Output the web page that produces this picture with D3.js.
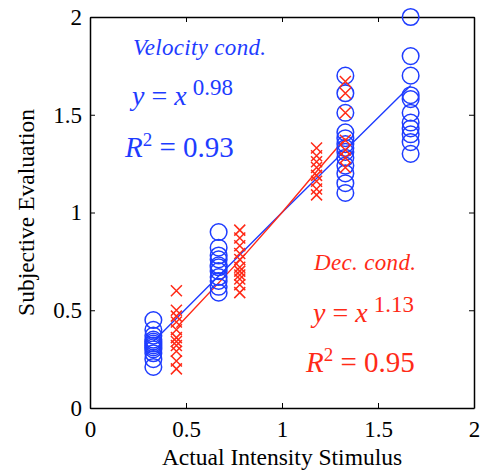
<!DOCTYPE html>
<html>
<head>
<meta charset="utf-8">
<script src="https://cdn.jsdelivr.net/npm/d3@7"></script>
<style>
  body { margin: 0; background: #fff; }
  text { font-family: "Liberation Serif", "DejaVu Serif", serif; }
</style>
</head>
<body>
<svg></svg>
<script>
// stimulus levels and ratings

var velX = [0.33, 0.67, 1.33, 1.67];
var velY = [
	[0.45, 0.40, 0.37, 0.35, 0.34, 0.33, 0.32, 0.31, 0.30, 0.28, 0.25, 0.21],
	[0.90, 0.82, 0.78, 0.76, 0.73, 0.72, 0.70, 0.67, 0.65, 0.62, 0.59],
	[1.70, 1.61, 1.51, 1.41, 1.38, 1.35, 1.33, 1.31, 1.28, 1.24, 1.20, 1.15, 1.10],
	[2.00, 1.80, 1.70, 1.60, 1.58, 1.51, 1.46, 1.43, 1.40, 1.36, 1.30]
];

var decX = [0.45, 0.78, 1.18, 1.33];
var decY = [
	[0.60, 0.50, 0.47, 0.44, 0.40, 0.36, 0.34, 0.32, 0.29, 0.24, 0.20],
	[0.91, 0.87, 0.83, 0.79, 0.76, 0.72, 0.70, 0.68, 0.66, 0.63, 0.59],
	[1.33, 1.29, 1.26, 1.23, 1.19, 1.16, 1.12, 1.09],
	[1.67, 1.61, 1.51, 1.37, 1.32, 1.28, 1.23]
];

// fitted curves
var velFitX = [0.33, 0.67, 1.00, 1.33, 1.67];
var velFitY = [0.34, 0.675, 1.00, 1.32, 1.65];
var decFitX = [0.45, 0.78, 1.00, 1.18, 1.33];
var decFitY = [0.41, 0.755, 1.00, 1.21, 1.38];

var xTicks = [0, 0.5, 1, 1.5, 2];
var xTickLabels = ['0', '0.5', '1', '1.5', '2'];
var yTicks = [0, 0.5, 1, 1.5, 2];
var yTickLabels = ['0', '0.5', '1', '1.5', '2'];

var blue = '#1e3cff',
	red = '#ff2a17';

var width = 481,
	height = 472,
	plotLeft = 90,
	plotRight = 474,
	plotTop = 17,
	plotBottom = 408;

var xScale = d3.scaleLinear().domain([0, 2]).range([plotLeft, plotRight]);
var yScale = d3.scaleLinear().domain([0, 2]).range([plotBottom, plotTop]);

var svg = d3.select('svg')
	.attr('width', width)
	.attr('height', height);

// axes with inward ticks, mirrored on top/right
function styleAxis(g) {
	g.selectAll('path').attr('stroke', '#000').attr('stroke-width', 1.5);
	g.selectAll('line').attr('stroke', '#000').attr('stroke-width', 1);
	g.selectAll('text').attr('fill', '#000').style('font-size', '23px');
}

svg.append('g')
	.attr('transform', 'translate(0,' + plotBottom + ')')
	.call(d3.axisBottom(xScale).tickValues(xTicks)
		.tickFormat((d, i) => xTickLabels[i]).tickSizeInner(-5).tickSizeOuter(0).tickPadding(13))
	.call(styleAxis);

svg.append('g')
	.attr('transform', 'translate(0,' + plotTop + ')')
	.call(d3.axisTop(xScale).tickValues(xTicks)
		.tickFormat('').tickSizeInner(-5).tickSizeOuter(0))
	.call(styleAxis);

svg.append('g')
	.attr('transform', 'translate(' + plotLeft + ',0)')
	.call(d3.axisLeft(yScale).tickValues(yTicks)
		.tickFormat((d, i) => yTickLabels[i]).tickSizeInner(-5).tickSizeOuter(0).tickPadding(8))
	.call(styleAxis);

svg.append('g')
	.attr('transform', 'translate(' + plotRight + ',0)')
	.call(d3.axisRight(yScale).tickValues(yTicks)
		.tickFormat('').tickSizeInner(-5).tickSizeOuter(0))
	.call(styleAxis);

// axis titles
svg.append('text')
	.attr('x', 282)
	.attr('y', 465)
	.style('text-anchor', 'middle')
	.style('font-size', '23.5px')
	.text('Actual Intensity Stimulus');

svg.append('text')
	.attr('transform', 'rotate(-90)')
	.attr('x', -(plotTop + plotBottom) / 2)
	.attr('y', 34)
	.style('text-anchor', 'middle')
	.style('font-size', '23.5px')
	.text('Subjective Evaluation');

// fit lines
var line = d3.line()
	.x(d => xScale(d[0]))
	.y(d => yScale(d[1]));

svg.append('path')
	.datum(velFitX.map((x, i) => [x, velFitY[i]]))
	.attr('d', line)
	.attr('fill', 'none')
	.attr('stroke', blue)
	.attr('stroke-width', 1.4);

svg.append('path')
	.datum(decFitX.map((x, i) => [x, decFitY[i]]))
	.attr('d', line)
	.attr('fill', 'none')
	.attr('stroke', red)
	.attr('stroke-width', 1.4);

// velocity condition: circles
var velPts = [];
velX.forEach((x, i) => velY[i].forEach(y => velPts.push([x, y])));

svg.append('g')
	.selectAll('circle')
	.data(velPts)
	.enter()
	.append('circle')
		.attr('cx', d => xScale(d[0]))
		.attr('cy', d => yScale(d[1]))
		.attr('r', 8.3)
		.attr('fill', 'none')
		.attr('stroke', blue)
		.attr('stroke-width', 1.5);

// deceleration condition: crosses
var decPts = [];
decX.forEach((x, i) => decY[i].forEach(y => decPts.push([x, y])));

var s = 5.5;
svg.append('g')
	.selectAll('path')
	.data(decPts)
	.enter()
	.append('path')
		.attr('d', d => {
			var cx = xScale(d[0]), cy = yScale(d[1]);
			return 'M' + (cx - s) + ',' + (cy - s) + 'L' + (cx + s) + ',' + (cy + s) +
				'M' + (cx - s) + ',' + (cy + s) + 'L' + (cx + s) + ',' + (cy - s);
		})
		.attr('fill', 'none')
		.attr('stroke', red)
		.attr('stroke-width', 1.5);

// annotations
function annot(x0, y0, color, label, labelWidth, expo, r2, gap) {
	svg.append('text')
		.attr('x', x0 + 1)
		.attr('y', y0)
		.attr('fill', color)
		.style('font-size', '23px')
		.style('font-style', 'italic')
		.attr('textLength', labelWidth)
		.text(label);

	var eq = svg.append('text')
		.attr('x', x0)
		.attr('y', y0 + gap)
		.attr('fill', color)
		.style('font-size', '28px');
	eq.append('tspan').style('font-style', 'italic').text('y');
	eq.append('tspan').text(' = ');
	eq.append('tspan').style('font-style', 'italic').text('x');
	eq.append('tspan').attr('dx', 6).attr('dy', -10).style('font-size', '23px').text(expo);

	var rr = svg.append('text')
		.attr('x', x0 - 7)
		.attr('y', y0 + 102)
		.attr('fill', color)
		.style('font-size', '29px');
	rr.append('tspan').style('font-style', 'italic').text('R');
	rr.append('tspan').attr('dy', -11).style('font-size', '19px').text('2');
	rr.append('tspan').attr('dy', 11).text(' = ' + r2);
}

annot(132, 55, blue, 'Velocity cond.', 133, '0.98', '0.93', 50);
annot(313, 270, red, 'Dec. cond.', 102, '1.13', '0.95', 52);
</script>
</body>
</html>
